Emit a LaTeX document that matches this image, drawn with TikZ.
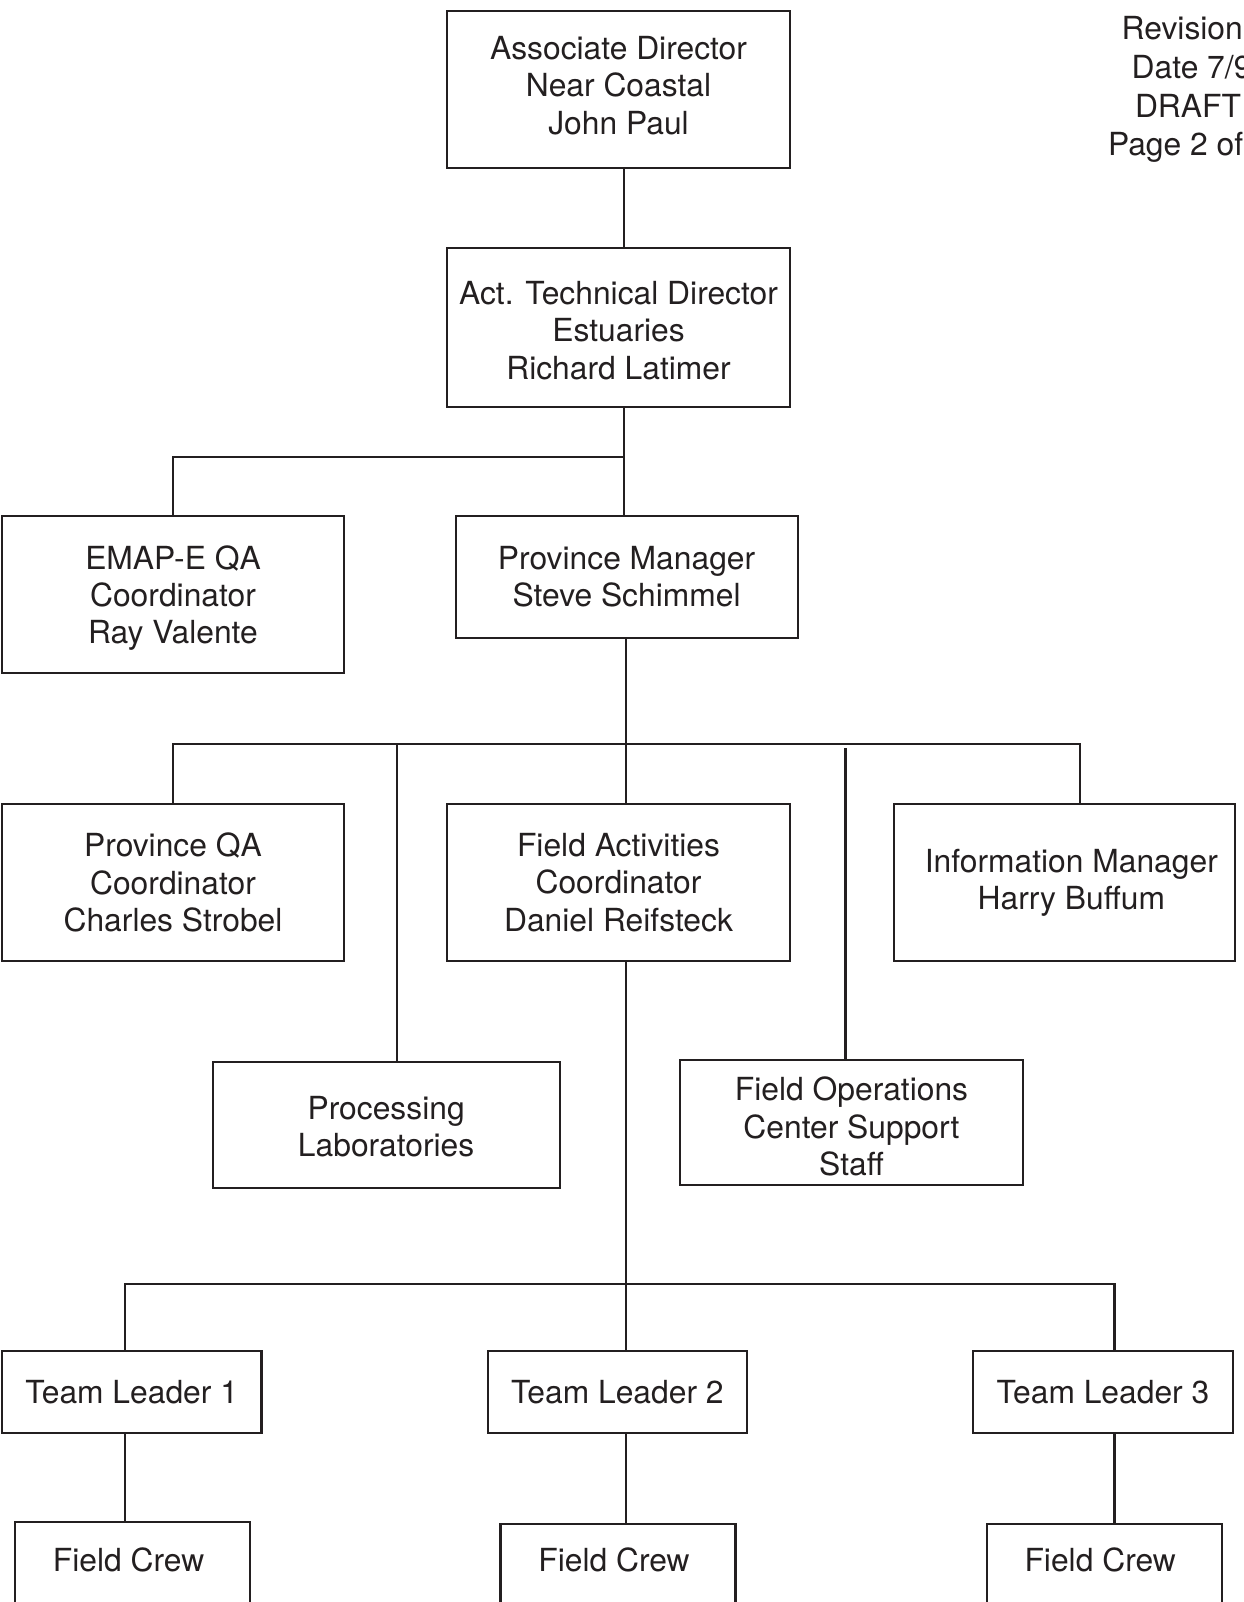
\documentclass[tikz,border=0pt]{standalone}
\usepackage{fontspec}
\setmainfont{TeX Gyre Heros}
\definecolor{ink}{HTML}{231F20}
\begin{document}
\begin{tikzpicture}[x=1pt,y=-1pt,
  every node/.style={inner sep=0pt,outer sep=0pt,text=ink,
    font=\fontsize{31.8pt}{37.3pt}\selectfont},
  orgbox/.style={draw=ink,line width=2.2pt,align=center},
  boxtext/.style={align=center},
  conn/.style={draw=ink,line width=2.2pt}]
\useasboundingbox (0,0) rectangle (1243,1602);
\clip (0,0) rectangle (1243,1602);
% header
\node[anchor=base west] (rev) at (1121.7,40) {Revision};
\node[anchor=base west] (date) at (1131.7,79) {Date 7/9};
\node[anchor=base west] (draft) at (1135,118) {DRAFT};
\node[anchor=base west] (page) at (1108,156) {Page 2 of};
% boxes
\node[orgbox,minimum width=343,minimum height=157] (ad) at (618.5,89.5) {};
\node[boxtext] (adt) at ([yshift=4pt]ad.center) {Associate Director\\Near Coastal\\John Paul};
\node[orgbox,minimum width=343,minimum height=159] (atd) at (618.5,327.5) {};
\node[boxtext] (atdt) at ([yshift=-3pt]atd.center) {Act. Technical Director\\Estuaries\\Richard Latimer};
\node[orgbox,minimum width=342,minimum height=157] (emap) at (173,594.5) {};
\node[boxtext] (emapt) at ([yshift=-3.5pt]emap.center) {EMAP-E QA\\Coordinator\\Ray Valente};
\node[orgbox,minimum width=342,minimum height=122] (pm) at (626.6,577) {Province Manager\\Steve Schimmel};
\node[orgbox,minimum width=342,minimum height=157] (pqa) at (173,882.5) {Province QA\\Coordinator\\Charles Strobel};
\node[orgbox,minimum width=343,minimum height=157] (fac) at (618.5,882.5) {Field Activities\\Coordinator\\Daniel Reifsteck};
\node[orgbox,minimum width=341,minimum height=157] (im) at (1064.3,882.5) {};
\node[boxtext] (imt) at ([xshift=7pt]im.center) {Information Manager\\Harry Buffum};
\node[orgbox,minimum width=347,minimum height=126] (pl) at (386.1,1125) {};
\node[boxtext] (plt) at ([yshift=-1.5pt]pl.center) {Processing\\Laboratories};
\node[orgbox,minimum width=343,minimum height=125] (fo) at (851.5,1122.5) {};
\node[boxtext] (fot) at ([yshift=-4pt]fo.center) {Field Operations\\Center Support\\Staff};
\node[orgbox,minimum width=259.5,minimum height=82] (tl1) at (131.7,1392) {Team Leader 1};
\node[orgbox,minimum width=258.6,minimum height=82] (tl2) at (617.3,1392) {Team Leader 2};
\node[orgbox,minimum width=260,minimum height=82] (tl3) at (1103,1392) {Team Leader 3};
\node[orgbox,minimum width=235,minimum height=88] (fc1) at (132.6,1566) {};
\node[orgbox,minimum width=235,minimum height=88] (fc2) at (618,1568) {};
\node[orgbox,minimum width=235,minimum height=88] (fc3) at (1104.2,1568) {};
\node[boxtext] (fc1t) at ([xshift=-4pt,yshift=6pt]fc1.center) {Field Crew};
\node[boxtext] (fc2t) at ([xshift=-4pt,yshift=8pt]fc2.center) {Field Crew};
\node[boxtext] (fc3t) at ([xshift=-4pt,yshift=8pt]fc3.center) {Field Crew};
% junctions
\coordinate (v0) at (624,0);
\coordinate (b1) at (624,456.6);
\coordinate (b2) at (625.7,744);
\coordinate (b3) at (626.3,1284);
\coordinate (plx) at (397.3,0);
\coordinate (fox) at (845.5,0);
\coordinate (imx) at (1079.6,0);
\coordinate (t1x) at (124.8,0);
\coordinate (t3x) at (1114.5,0);
% connectors
\draw[conn] (ad.south -| v0) -- (atd.north -| v0);
\draw[conn] (atd.south -| b1) -- (pm.north -| b1);
\draw[conn] (emap.north) |- (b1);
\draw[conn] (pm.south -| b2) -- (fac.north -| b2);
\draw[conn] (pqa.north) |- (b2) -| (im.north -| imx);
\draw[conn] (pl.north -| plx) -- (b2 -| plx);
\draw[conn] (fo.north -| fox) -- ([yshift=-4pt]b2 -| fox);
\draw[conn] (fac.south -| b3) -- (tl2.north -| b3);
\draw[conn] (tl1.north -| t1x) |- (b3) -| (tl3.north -| t3x);
\draw[conn] (tl1.south -| t1x) -- (fc1.north -| t1x);
\draw[conn] (tl2.south -| b3) -- (fc2.north -| b3);
\draw[conn] (tl3.south -| t3x) -- (fc3.north -| t3x);
\end{tikzpicture}
\end{document}
